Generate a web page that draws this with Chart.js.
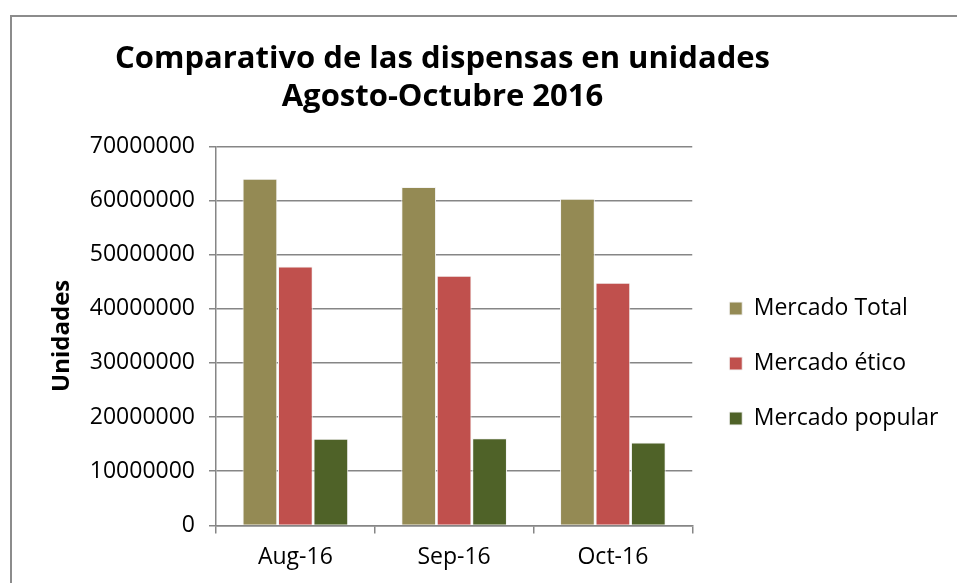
<!DOCTYPE html>
<html>
<head>
<meta charset="utf-8">
<script src="https://cdn.jsdelivr.net/npm/chart.js@4.4.0/dist/chart.umd.min.js"></script>
<style>
  html, body { margin: 0; padding: 0; background: #fff; overflow: hidden; }
  #frame { position: absolute; left: 10px; top: 15px; width: 960px; height: 600px;
           border-left: 2px solid #8c8c8c; border-top: 2px solid #8c8c8c; }
  #wrap { position: absolute; left: 0; top: 0; width: 957px; height: 583px; }
</style>
</head>
<body>
<div id="frame"></div>
<div id="wrap"><canvas id="myChart" width="957" height="583"></canvas></div>
<script>
var meses = ["Aug-16", "Sep-16", "Oct-16"];
var mercadoTotal = [64000000, 62500000, 60300000];
var mercadoEtico = [47800000, 46100000, 44800000];
var mercadoPopular = [16000000, 16100000, 15300000];
var yTicks = [0, 10000000, 20000000, 30000000, 40000000, 50000000, 60000000, 70000000];

var fuente = "'Open Sans', sans-serif";
var gris = "#868686";

// ajustes de posicion del titulo y la leyenda como en el original
var ajustes = {
    id: "ajustes",
    afterLayout: function(chart){
        var t = chart.titleBlock;
        if(t){ t.right = t.right - 38; }
        var l = chart.legend;
        if(l){ l.top += 73; l.bottom += 73; l.left += 5; l.right = 990; }
    }
};

var canvas = document.getElementById("myChart");
var myChart = new Chart(canvas, {
    type: "bar",
    data: {
        labels: meses,
        datasets: [{
            label: "Mercado Total",
            data: mercadoTotal,
            backgroundColor: "#948A54",
            borderColor: "#f4f4f4",
            borderWidth: 1
        }, {
            label: "Mercado ético",
            data: mercadoEtico,
            backgroundColor: "#C0504D",
            borderColor: "#f4f4f4",
            borderWidth: 1
        }, {
            label: "Mercado popular",
            data: mercadoPopular,
            backgroundColor: "#4F6228",
            borderColor: "#f4f4f4",
            borderWidth: 1
        }]
    },
    options: {
        responsive: false,
        animation: false,
        layout: { padding: { left: 0, right: 34, top: 0, bottom: 2 } },
        datasets: { bar: { categoryPercentage: 0.67, barPercentage: 0.98 } },
        plugins: {
            title: {
                display: true,
                text: ["Comparativo de las dispensas en unidades", "Agosto-Octubre 2016"],
                color: "#000",
                font: { family: fuente, size: 31, weight: "bold", lineHeight: 1.23 },
                padding: { top: 40, bottom: 30 }
            },
            legend: {
                position: "right",
                labels: {
                    color: "#000",
                    font: { family: fuente, size: 23 },
                    boxWidth: 13,
                    boxHeight: 13,
                    padding: 32
                }
            },
            tooltip: { enabled: false }
        },
        scales: {
            x: {
                grid: { display: true, drawOnChartArea: false, offset: true, tickLength: 8, color: gris, lineWidth: 1.5 },
                border: { color: gris, width: 1.5 },
                ticks: { color: "#000", font: { family: fuente, size: 23 }, padding: 10 }
            },
            y: {
                min: 0,
                max: 70000000,
                afterBuildTicks: function(scale){
                    scale.ticks = yTicks.map(function(v){ return { value: v }; });
                },
                afterFit: function(scale){ scale.width = 216; },
                grid: { color: gris, lineWidth: 1.5, tickLength: 7 },
                border: { color: gris, width: 1.5 },
                ticks: {
                    color: "#000",
                    font: { family: fuente, size: 23 },
                    padding: 14,
                    callback: function(v){ return String(v); }
                },
                title: {
                    display: true,
                    text: "Unidades",
                    color: "#000",
                    font: { family: fuente, size: 24, weight: "bold" },
                    padding: { top: 48, bottom: 0 }
                }
            }
        }
    },
    plugins: [ajustes]
});
</script>
</body>
</html>
